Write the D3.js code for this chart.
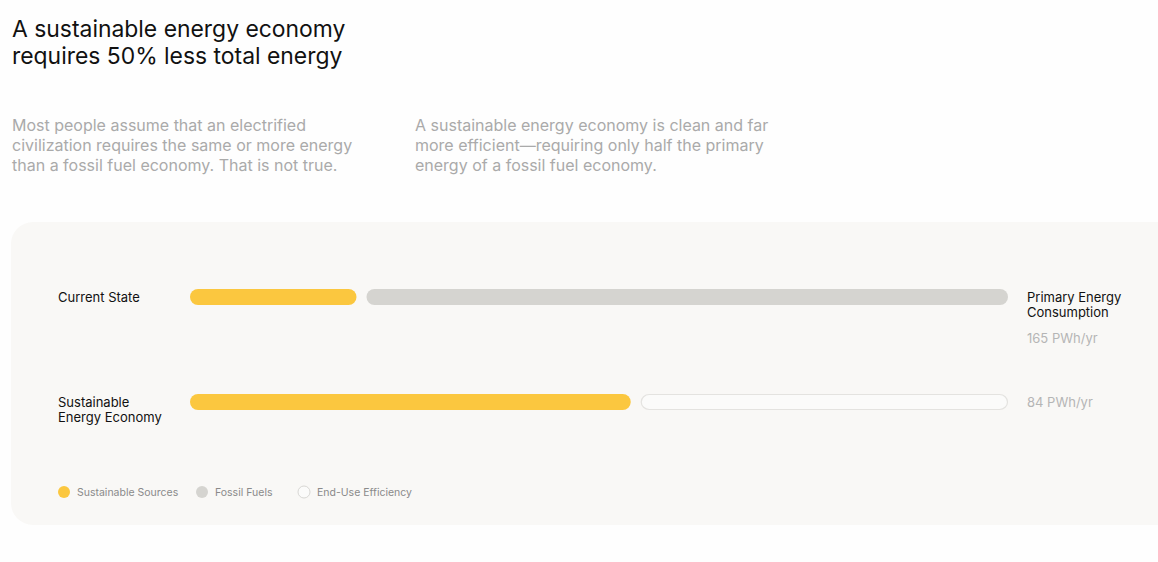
<!DOCTYPE html>
<html>
<head>
<meta charset="utf-8">
<script src="https://cdn.jsdelivr.net/npm/d3@7"></script>
<style>
  html, body { margin: 0; padding: 0; background: #fefefe; }
  svg { display: block; font-family: Inter, "Noto Sans", sans-serif; }
</style>
</head>
<body>
<div id="chart"></div>
<script>
// datos del gráfico
var rowLabels = [["Current State"], ["Sustainable", "Energy Economy"]];
var seriesNames = ["Sustainable Sources", "Fossil Fuels", "End-Use Efficiency"];
var sustainable = [34, 90];
var fossil = [131, 0];
var efficiency = [0, 75];
var totalLabels = ["165 PWh/yr", "84 PWh/yr"];
var scaleMax = 165;

var W = 1158, H = 562;
var colores = ["#fbc73f", "#d5d4d0", "#fbfbfa"];

var svg = d3.select("#chart").append("svg")
  .attr("width", W)
  .attr("height", H);

// titulo
var title = svg.append("text")
  .attr("x", 12).attr("y", 37)
  .attr("font-size", 22.9)
  .attr("fill", "#111");
title.append("tspan").attr("x", 12).text("A sustainable energy economy");
title.append("tspan").attr("x", 12).attr("dy", 27).text("requires 50% less total energy");

// parrafos
function parrafo(x, lineas) {
  var t = svg.append("text")
    .attr("x", x).attr("y", 131)
    .attr("font-size", 16)
    .attr("fill", "#aaaaaa");
  lineas.forEach(function(l, i) {
    t.append("tspan").attr("x", x).attr("dy", i === 0 ? 0 : 20).text(l);
  });
}
parrafo(12, ["Most people assume that an electrified",
  "civilization requires the same or more energy",
  "than a fossil fuel economy. That is not true."]);
parrafo(415, ["A sustainable energy economy is clean and far",
  "more efficient\u2014requiring only half the primary",
  "energy of a fossil fuel economy."]);

// panel de fondo
svg.append("rect")
  .attr("x", 11).attr("y", 222)
  .attr("width", W + 40).attr("height", 303)
  .attr("rx", 22)
  .attr("fill", "#f9f8f6");

var gap = 10;
var x = d3.scaleLinear().domain([0, scaleMax]).range([190, 1008 - gap]);
var y = d3.scalePoint().domain([0, 1]).range([297, 402]);
var barH = 16;

var series = [sustainable, fossil, efficiency];
var filas = d3.range(rowLabels.length).map(function(i) {
  var acc = 0, k = 0, segs = [];
  series.forEach(function(s, j) {
    if (s[i] > 0) {
      segs.push({fila: i, serie: j, x0: x(acc) + k * gap, w: x(s[i]) - x(0)});
      acc += s[i];
      k++;
    }
  });
  return segs;
});

var g = svg.append("g");
g.selectAll("rect.bar")
  .data(d3.merge(filas))
  .join("rect")
  .attr("class", "bar")
  .attr("x", function(d) { return d.x0 + (d.serie === 2 ? 0.5 : 0); })
  .attr("y", function(d) { return y(d.fila) - barH / 2 + (d.serie === 2 ? 0.5 : 0); })
  .attr("width", function(d) { return d.w - (d.serie === 2 ? 1 : 0); })
  .attr("height", function(d) { return barH - (d.serie === 2 ? 1 : 0); })
  .attr("rx", barH / 2)
  .attr("fill", function(d) { return colores[d.serie]; })
  .attr("stroke", function(d) { return d.serie === 2 ? "#e4e3e0" : "none"; })
  .attr("stroke-width", 1.2);

// etiquetas de filas
rowLabels.forEach(function(lineas, i) {
  var t = svg.append("text")
    .attr("x", 58).attr("y", y(i) + 5)
    .attr("font-size", 13)
    .attr("fill", "#111");
  lineas.forEach(function(l, j) {
    t.append("tspan").attr("x", 58).attr("dy", j === 0 ? 0 : 15).text(l);
  });
});

// etiquetas derecha
var rt = svg.append("text")
  .attr("x", 1027).attr("y", y(0) + 5)
  .attr("font-size", 13)
  .attr("fill", "#111");
rt.append("tspan").attr("x", 1027).text("Primary Energy");
rt.append("tspan").attr("x", 1027).attr("dy", 15).text("Consumption");

svg.selectAll("text.total")
  .data(totalLabels)
  .join("text")
  .attr("class", "total")
  .attr("x", 1027)
  .attr("y", function(d, i) { return i === 0 ? y(0) + 46 : y(1) + 5; })
  .attr("font-size", 13)
  .attr("fill", "#b5b5b5")
  .text(function(d) { return d; });

// leyenda
var legX = [64, 202, 304];
var leg = svg.selectAll("g.leg")
  .data(seriesNames)
  .join("g")
  .attr("class", "leg")
  .attr("transform", function(d, i) { return "translate(" + legX[i] + ",492)"; });
leg.append("circle")
  .attr("r", 6)
  .attr("fill", function(d, i) { return colores[i]; })
  .attr("stroke", function(d, i) { return i === 2 ? "#d8d7d4" : "none"; })
  .attr("stroke-width", 1);
leg.append("text")
  .attr("x", 13).attr("y", 4)
  .attr("font-size", 10.5)
  .attr("fill", "#8a8a8a")
  .text(function(d) { return d; });
</script>
</body>
</html>
